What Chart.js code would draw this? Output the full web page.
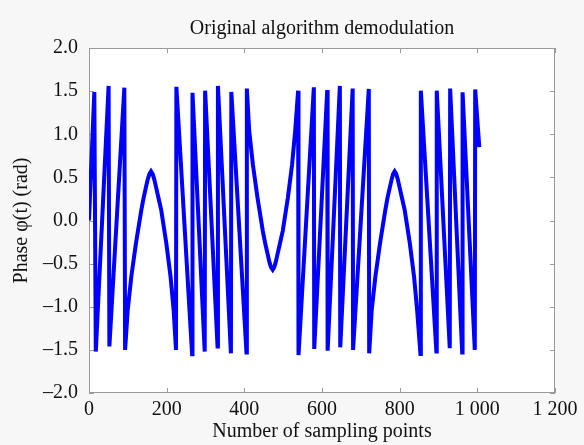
<!DOCTYPE html>
<html>
<head>
<meta charset="utf-8">
<script src="https://cdn.jsdelivr.net/npm/chart.js@4.4.0/dist/chart.umd.min.js"></script>
<style>
  html, body { margin: 0; padding: 0; background: #f7f7f7; }
  canvas { display: block; }
</style>
</head>
<body>
<canvas id="chart" width="584" height="445"></canvas>
<script>
// sample index (x) and demodulated phase (y)
const sampleX = [
  0, 13.7, 17.5, 50.5, 52.5, 91, 93,
  99.6, 109, 121, 134.7, 141, 146.8, 151.5, 155.7, 159.7, 163.7, 167.9, 172.5, 178.5, 186, 199, 210, 218, 224,
  225, 265.5, 266.5, 298, 299, 331, 332, 365.5, 366.5, 405.5, 406.5,
  412.5, 422, 434, 447.5, 454, 460, 464.5, 468.5, 473, 477, 481, 485.5, 491.5, 499, 512, 523, 531, 538.5,
  539.5, 579, 580, 613.5, 614.5, 646, 647, 679, 680, 720.5, 721.5,
  728, 737.5, 749.5, 763, 769, 775, 779.5, 783, 787, 791, 795, 799.5, 805.5, 813, 826, 837, 845, 853.5,
  854.5, 894.5, 895.5, 929, 930, 961, 962, 993.5, 994.5, 1005
];
const phaseY = [
  0.0, 1.49, -1.52, 1.56, -1.46, 1.54, -1.50,
  -1.04, -0.65, -0.26, 0.12, 0.27, 0.39, 0.48, 0.54, 0.57, 0.54, 0.48, 0.39, 0.27, 0.12, -0.26, -0.65, -1.04, -1.50,
  1.55, -1.55, 1.48, -1.52, 1.505, -1.46, 1.56, -1.54, 1.49, -1.53, 1.53,
  1.04, 0.65, 0.26, -0.12, -0.27, -0.39, -0.48, -0.54, -0.57, -0.54, -0.48, -0.39, -0.27, -0.12, 0.26, 0.65, 1.04, 1.505,
  -1.56, 1.544, -1.49, 1.513, -1.51, 1.56, -1.47, 1.53, -1.50, 1.525, -1.54,
  -1.04, -0.65, -0.26, 0.12, 0.27, 0.39, 0.48, 0.54, 0.57, 0.54, 0.48, 0.39, 0.27, 0.12, -0.26, -0.65, -1.04, -1.548,
  1.505, -1.52, 1.505, -1.48, 1.53, -1.53, 1.486, -1.50, 1.52, 0.85
];
const xTickLabels = ["0", "200", "400", "600", "800", "1 000", "1 200"];
const yTickLabels = ["–2.0", "–1.5", "–1.0", "–0.5", "0.0", "0.5", "1.0", "1.5", "2.0"];

Chart.defaults.font.family = "'Liberation Serif', 'DejaVu Serif', serif";
Chart.defaults.color = "#111";

// white plot area, grey frame and inward tick marks on all four sides
const framePlugin = {
  id: "frame",
  beforeDraw(chart) {
    const {ctx, chartArea: a} = chart;
    ctx.save();
    ctx.fillStyle = "#f7f7f7";
    ctx.fillRect(0, 0, chart.width, chart.height);
    ctx.fillStyle = "#ffffff";
    ctx.fillRect(a.left, a.top, a.right - a.left, a.bottom - a.top);
    ctx.restore();
  },
  beforeDatasetsDraw(chart) {
    const {ctx, chartArea: a, scales} = chart;
    const len = 5;
    ctx.save();
    ctx.strokeStyle = "#9a9a9a";
    ctx.lineWidth = 1;
    ctx.strokeRect(a.left + 0.5, a.top + 0.5, a.right - a.left - 1, a.bottom - a.top - 1);
    ctx.beginPath();
    scales.x.ticks.forEach(t => {
      const px = Math.round(scales.x.getPixelForValue(t.value)) + 0.5;
      ctx.moveTo(px, a.bottom);
      ctx.lineTo(px, a.bottom - len);
      ctx.moveTo(px, a.top);
      ctx.lineTo(px, a.top + len);
    });
    scales.y.ticks.forEach(t => {
      const py = Math.round(scales.y.getPixelForValue(t.value)) + 0.5;
      ctx.moveTo(a.left, py);
      ctx.lineTo(a.left + len, py);
      ctx.moveTo(a.right, py);
      ctx.lineTo(a.right - len, py);
    });
    ctx.stroke();
    ctx.restore();
  }
};

new Chart(document.getElementById("chart"), {
  type: "line",
  data: {
    datasets: [
      {
        data: sampleX.map((x, i) => ({x: x, y: phaseY[i]})),
        borderColor: "#0000ff",
        borderWidth: 4,
        pointRadius: 0,
        tension: 0,
        fill: false,
      },
    ],
  },
  options: {
    responsive: false,
    animation: false,
    layout: {
      padding: {left: 0, right: 29, top: 0, bottom: 0},
    },
    plugins: {
      legend: {display: false},
      tooltip: {enabled: false},
      title: {
        display: true,
        text: "Original algorithm demodulation",
        fullSize: false,
        font: {size: 20, weight: "normal"},
        padding: {top: 17, bottom: 7},
      },
    },
    scales: {
      x: {
        type: "linear",
        min: 0,
        max: 1200,
        grid: {display: false, drawTicks: false},
        border: {display: false},
        ticks: {
          stepSize: 200,
          padding: 5,
          maxRotation: 0,
          autoSkip: false,
          font: {size: 20},
          callback: (v, i) => xTickLabels[i],
        },
        title: {
          display: true,
          text: "Number of sampling points",
          font: {size: 20},
          padding: {top: 0, bottom: 1},
        },
        afterFit: s => { s.height = 52; },
      },
      y: {
        min: -2,
        max: 2,
        grid: {display: false, drawTicks: false},
        border: {display: false},
        ticks: {
          stepSize: 0.5,
          padding: 11,
          font: {size: 20},
          callback: (v, i) => yTickLabels[i],
        },
        title: {
          display: true,
          text: "Phase φ(t) (rad)",
          font: {size: 20},
          padding: {top: 10, bottom: 0},
        },
        afterFit: s => { s.width = 89; },
      },
    },
  },
  plugins: [framePlugin],
});
</script>
</body>
</html>
